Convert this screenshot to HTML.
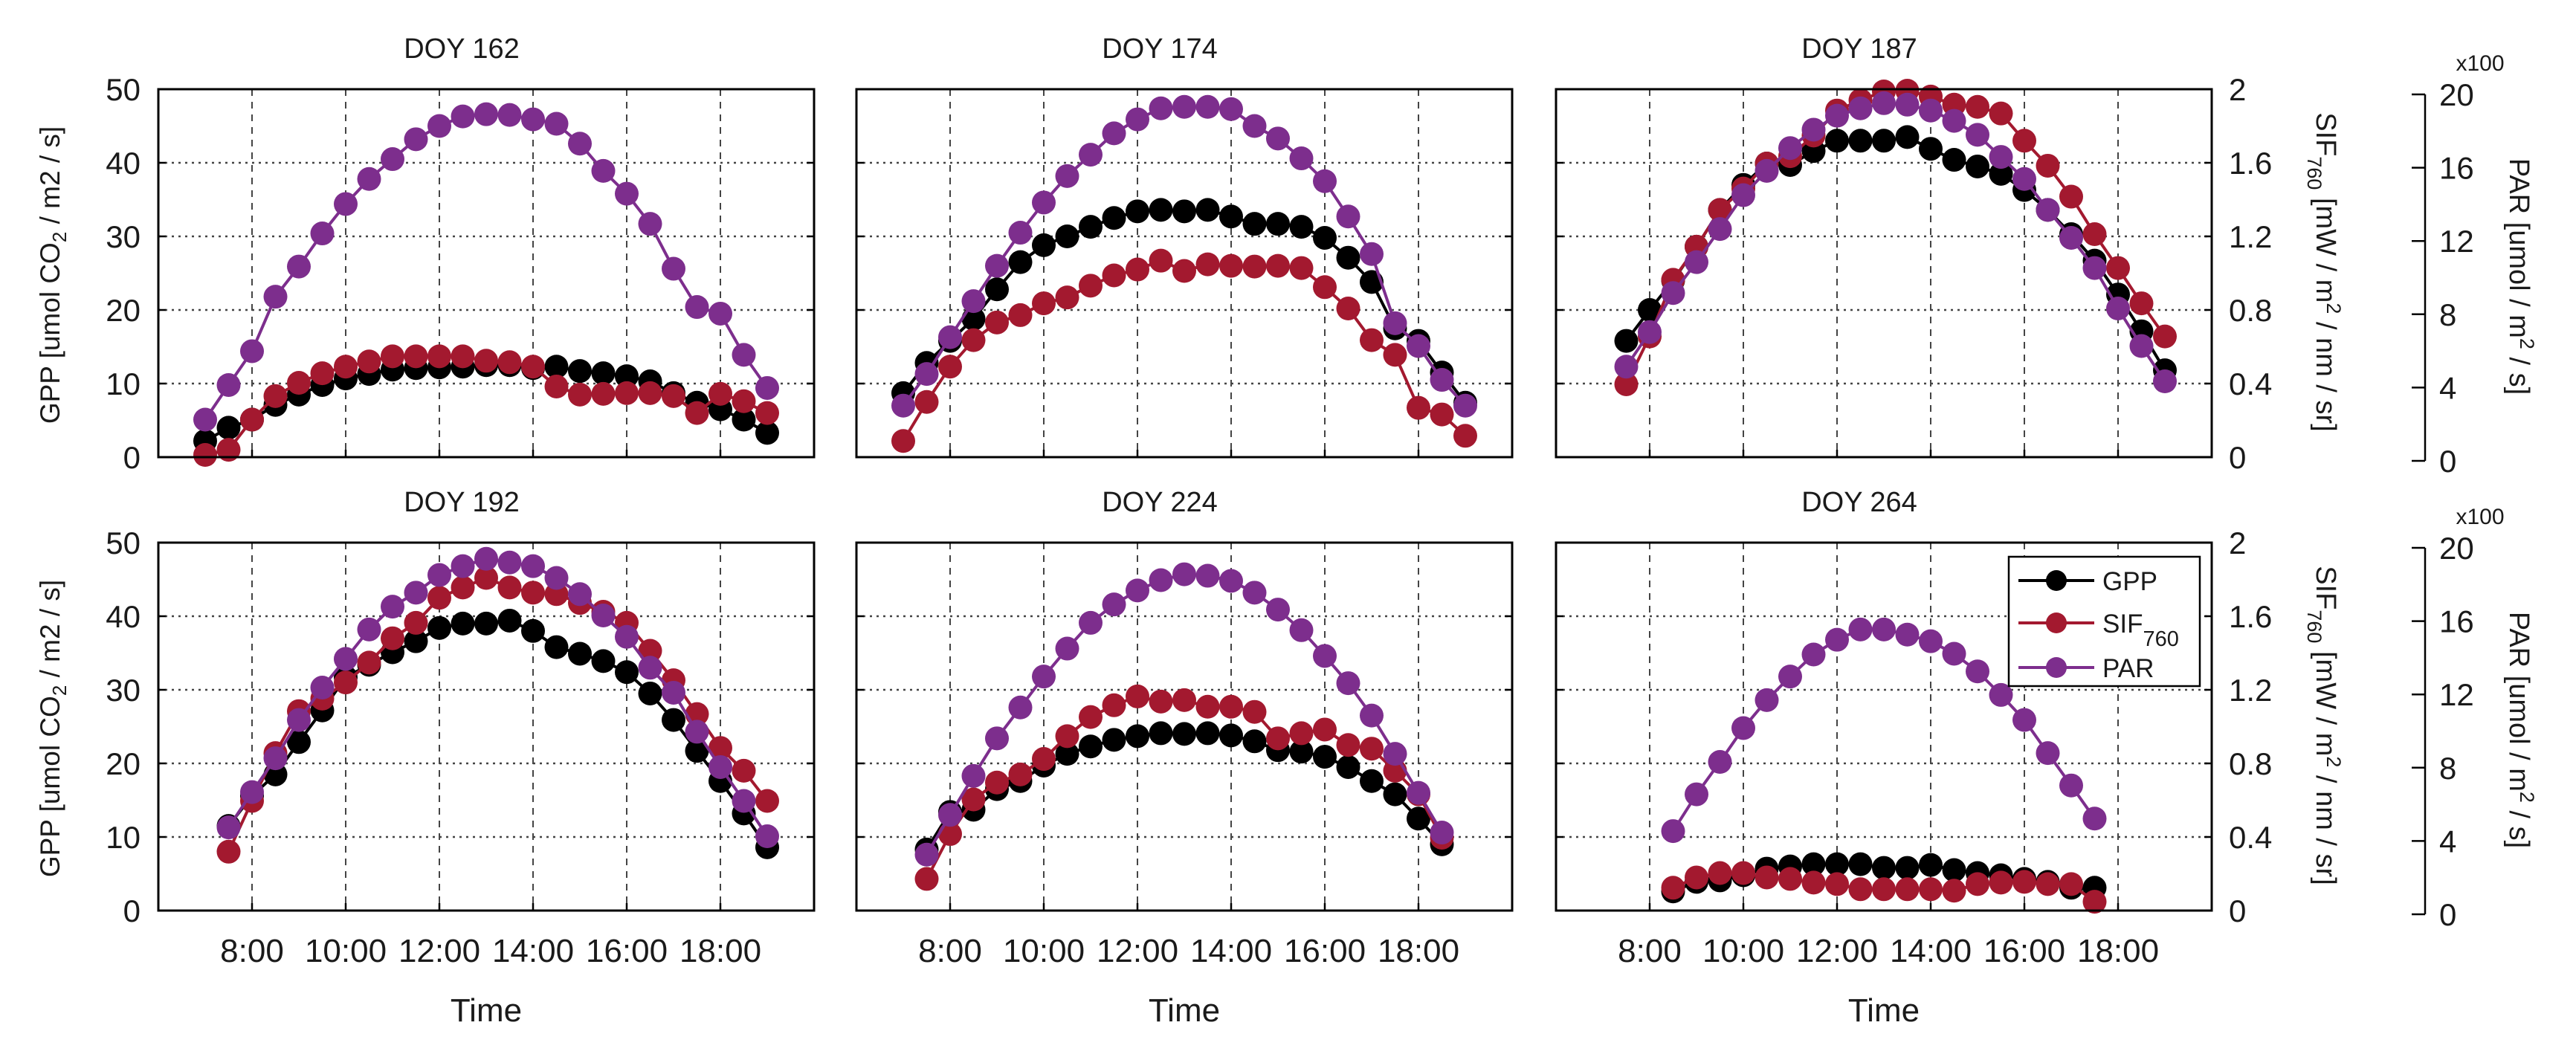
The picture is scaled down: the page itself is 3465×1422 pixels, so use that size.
<!DOCTYPE html>
<html><head><meta charset="utf-8"><style>
html,body{margin:0;padding:0;background:#fff;}
svg{display:block;font-family:"Liberation Sans",Arial,sans-serif;}
</style></head><body>
<svg id="fig" width="3465" height="1422" viewBox="0 0 3465 1422" xmlns="http://www.w3.org/2000/svg"></svg>
<script>
// ---- data (GPP in umol CO2/m2/s, SIF in mW/m2/nm/sr, PAR in umol/m2/s) ----
const panelTitles = ["DOY 162","DOY 174","DOY 187","DOY 192","DOY 224","DOY 264"];
const startHours = [7, 7, 7.5, 7.5, 7.5, 8.5];
const gpp162 = [2.2,4.0,5.1,7.1,8.5,9.8,10.7,11.3,11.9,12.1,12.2,12.3,12.5,12.5,12.1,12.3,11.7,11.4,11.0,10.3,8.7,7.4,6.5,5.1,3.3];
const sif162 = [0.012,0.04,0.204,0.332,0.404,0.456,0.492,0.52,0.548,0.548,0.548,0.548,0.524,0.516,0.492,0.384,0.34,0.344,0.348,0.348,0.332,0.24,0.344,0.304,0.24];
const par162 = [204,392,576,872,1036,1216,1376,1512,1620,1728,1800,1852,1864,1860,1836,1812,1704,1556,1432,1268,1024,816,780,556,376];
const gpp174 = [8.7,12.8,15.8,18.8,22.8,26.5,28.8,30.0,31.3,32.5,33.4,33.6,33.4,33.6,32.7,31.7,31.7,31.3,29.8,27.1,23.8,17.5,15.8,11.5,7.4];
const sif174 = [0.088,0.30,0.492,0.636,0.732,0.772,0.836,0.868,0.932,0.988,1.02,1.068,1.012,1.048,1.04,1.036,1.04,1.028,0.924,0.808,0.636,0.556,0.268,0.232,0.116];
const par174 = [280,452,652,848,1040,1220,1384,1528,1644,1760,1836,1896,1904,1904,1892,1800,1732,1624,1500,1308,1104,728,604,420,280];
const gpp187 = [15.8,20.0,24.0,28.6,33.6,37.0,39.9,39.7,41.6,43.0,43.0,43.0,43.5,41.9,40.4,39.5,38.5,36.3,33.6,30.3,26.7,22.1,17.1,11.8];
const sif187 = [0.396,0.656,0.964,1.144,1.344,1.46,1.596,1.636,1.748,1.884,1.94,1.988,1.992,1.96,1.916,1.904,1.868,1.72,1.584,1.416,1.212,1.028,0.836,0.656];
const par187 = [492,680,892,1060,1240,1424,1556,1680,1780,1856,1896,1924,1916,1884,1828,1752,1632,1512,1344,1192,1028,808,604,412];
const gpp192 = [11.5,15.6,18.5,22.9,27.2,31.7,33.4,35.1,36.6,38.4,39.0,39.0,39.4,38.0,35.8,34.9,33.9,32.4,29.5,25.9,21.7,17.6,13.2,8.6];
const sif192 = [0.32,0.596,0.856,1.084,1.152,1.24,1.348,1.48,1.564,1.70,1.756,1.808,1.756,1.728,1.72,1.672,1.624,1.564,1.412,1.252,1.068,0.884,0.76,0.596];
const par192 = [452,644,828,1036,1212,1368,1528,1652,1728,1824,1872,1912,1892,1872,1808,1720,1604,1488,1320,1184,972,780,596,404];
const gpp224 = [8.3,13.4,13.7,16.5,17.6,19.7,21.3,22.3,23.2,23.7,24.1,24.0,24.1,23.8,23.0,21.8,21.6,20.9,19.5,17.6,15.8,12.5,9.0];
const sif224 = [0.172,0.416,0.604,0.696,0.74,0.824,0.948,1.052,1.116,1.164,1.136,1.144,1.108,1.108,1.08,0.936,0.964,0.984,0.90,0.88,0.76,0.632,0.396];
const par224 = [304,520,732,936,1104,1272,1424,1564,1664,1740,1796,1828,1820,1792,1728,1636,1524,1384,1236,1060,852,640,424];
const gpp264 = [2.6,3.9,4.1,4.8,5.7,6.0,6.3,6.3,6.3,5.8,5.8,6.2,5.5,5.1,4.8,4.3,3.9,3.1,3.1];
const sif264 = [0.124,0.18,0.204,0.204,0.18,0.172,0.152,0.144,0.116,0.116,0.116,0.116,0.108,0.144,0.152,0.156,0.144,0.144,0.048];
const par264 = [432,632,808,992,1144,1272,1392,1472,1528,1528,1500,1464,1396,1300,1172,1036,856,680,500];
const gppTicks = [0,10,20,30,40,50];
const sifTicks = ["0","0.4","0.8","1.2","1.6","2"];
const parTicks = [0,4,8,12,16,20];
const xTicks = [8,10,12,14,16,18];
const xTickLabels = ["8:00","10:00","12:00","14:00","16:00","18:00"];

const gppSeries = [gpp162,gpp174,gpp187,gpp192,gpp224,gpp264];
const sifSeries = [sif162,sif174,sif187,sif192,sif224,sif264];
const parSeries = [par162,par174,par187,par192,par224,par264];

// ---- layout ----
const NS = "http://www.w3.org/2000/svg";
const svg = document.getElementById('fig');
const lefts = [213,1152,2093], tops = [120,730], PW = 882, PH = 495;
const X0 = 6, X1 = 20;
const RED = "#a3192f", PURPLE = "#7d2e8d";
function mk(tag, attrs, parent){ const e=document.createElementNS(NS,tag); for(const k in attrs) e.setAttribute(k,attrs[k]); (parent||svg).appendChild(e); return e; }
function xs(p,h){ return lefts[p%3] + (h-X0)/(X1-X0)*PW; }
function yg(p,v){ return tops[Math.floor(p/3)] + PH - v/50*PH; }
function ys(p,v){ return yg(p, v*25); }
function yp(p,v){ return yg(p, v/40); }

for(let p=0;p<6;p++){
  const L=lefts[p%3], T=tops[Math.floor(p/3)];
  const g = mk('g',{});
  
  
  xTicks.forEach(h=>{
    const l=mk('line',{x1:xs(p,h),x2:xs(p,h),y1:T,y2:T+PH,stroke:'#444','stroke-width':2,'stroke-dasharray':'9,8'},g);
     
  });
  gppTicks.slice(1,5).forEach(v=>{
    const l=mk('line',{x1:L,x2:L+PW,y1:yg(p,v),y2:yg(p,v),stroke:'#444','stroke-width':2.5,'stroke-dasharray':'3,6'},g);
     
    mk('line',{x1:L,x2:L+10,y1:yg(p,v),y2:yg(p,v),stroke:'#000','stroke-width':2.5},g);
    mk('line',{x1:L+PW-10,x2:L+PW,y1:yg(p,v),y2:yg(p,v),stroke:'#000','stroke-width':2.5},g);
  });
  xTicks.forEach(h=>{ mk('line',{x1:xs(p,h),x2:xs(p,h),y1:T+PH-10,y2:T+PH,stroke:'#000','stroke-width':2.5},g); });
  const n = gppSeries[p].length;
  const hrs = []; for(let i=0;i<n;i++) hrs.push(startHours[p]+0.5*i);
  [[gppSeries[p],yg,'#000','gpp'],[sifSeries[p],ys,RED,'sif760'],[parSeries[p],yp,PURPLE,'par']].forEach(([arr,fy,col,nm])=>{
    const pts = arr.map((v,i)=>xs(p,hrs[i]).toFixed(1)+','+fy(p,v).toFixed(1)).join(' ');
    const pl = mk('polyline',{points:pts,fill:'none',stroke:col,'stroke-width':4},g);
     
    arr.forEach((v,i)=>{
      const c = mk('circle',{cx:xs(p,hrs[i]),cy:fy(p,v),r:16,fill:col},g);
       
    });
  });
  const fr = mk('rect',{x:L,y:T,width:PW,height:PH,fill:'none',stroke:'#000','stroke-width':3},g);
   
  const t = mk('text',{x:L+408,y:T-42,'font-size':38,'text-anchor':'middle',fill:'#1a1a1a'},g);
  t.textContent = panelTitles[p];
   
  if(p%3===0){
    gppTicks.forEach(v=>{
      const tl = mk('text',{x:189,y:yg(p,v)+15,'font-size':42,'text-anchor':'end',fill:'#1a1a1a'},g);
      tl.textContent = v;
       
    });
    const yt = mk('text',{transform:`translate(80,${T+250}) rotate(-90)`,'font-size':37,'text-anchor':'middle',fill:'#1a1a1a'},g);
    yt.innerHTML = 'GPP [umol CO<tspan dy="9" font-size="26">2</tspan><tspan dy="-9"> / m2 / s]</tspan>';
     
  }
  if(p%3===2){
    sifTicks.forEach((s,i)=>{
      const tl = mk('text',{x:2998,y:yg(p,gppTicks[i])+15,'font-size':42,fill:'#1a1a1a'},g);
      tl.textContent = s;
       
    });
    const st = mk('text',{transform:`translate(3116,${T+246}) rotate(90)`,'font-size':38,'text-anchor':'middle',fill:'#1a1a1a'},g);
    st.innerHTML = 'SIF<tspan dy="12" font-size="27">760</tspan><tspan dy="-12"> [mW / m</tspan><tspan dy="-14" font-size="27">2</tspan><tspan dy="14"> / nm / sr]</tspan>';
     
    const PT = T+7, PB = T+PH+5;
    const ax = mk('line',{x1:3262,x2:3262,y1:PT,y2:PB,stroke:'#000','stroke-width':2.5},g);
     
    parTicks.forEach(v=>{
      const yy = PB - v/20*(PB-PT);
      mk('line',{x1:3244,x2:3262,y1:yy,y2:yy,stroke:'#000','stroke-width':2.5},g);
      const tl = mk('text',{x:3281,y:yy+15,'font-size':42,fill:'#1a1a1a'},g);
      tl.textContent = v;
       
    });
    const xm = mk('text',{x:3336,y:T-25,'font-size':30,'text-anchor':'middle',fill:'#1a1a1a'},g);
    xm.textContent = 'x100';
     
    const pt = mk('text',{transform:`translate(3376,${T+252}) rotate(90)`,'font-size':38,'text-anchor':'middle',fill:'#1a1a1a'},g);
    pt.innerHTML = 'PAR [umol / m<tspan dy="-14" font-size="27">2</tspan><tspan dy="14"> / s]</tspan>';
     
  }
  if(p>=3){
    xTicks.forEach((h,i)=>{
      const tl = mk('text',{x:xs(p,h),y:1294,'font-size':44,'text-anchor':'middle',fill:'#1a1a1a'},g);
      tl.textContent = xTickLabels[i];
       
    });
    const tt = mk('text',{x:L+PW/2,y:1374,'font-size':44,'text-anchor':'middle',fill:'#1a1a1a'},g);
    tt.textContent = 'Time';
     
  }
}
const lg = mk('g',{});
 
mk('rect',{x:2702,y:749,width:257,height:174,fill:'#fff',stroke:'#000','stroke-width':2.5},lg);
[['GPP','#000',781],['SIF','#a3192f',838],['PAR','#7d2e8d',898]].forEach(([lab,col,yy])=>{
  const e = mk('g',{},lg);
   
  mk('line',{x1:2715,x2:2817,y1:yy,y2:yy,stroke:col,'stroke-width':4},e);
  mk('circle',{cx:2766,cy:yy,r:14,fill:col},e);
  const t = mk('text',{x:2828,y:yy+13,'font-size':35,fill:'#1a1a1a'},e);
  if(lab==='SIF'){ t.innerHTML='SIF<tspan dy="18" font-size="29">760</tspan>'; } else t.textContent=lab;
});
</script>
</body></html>
